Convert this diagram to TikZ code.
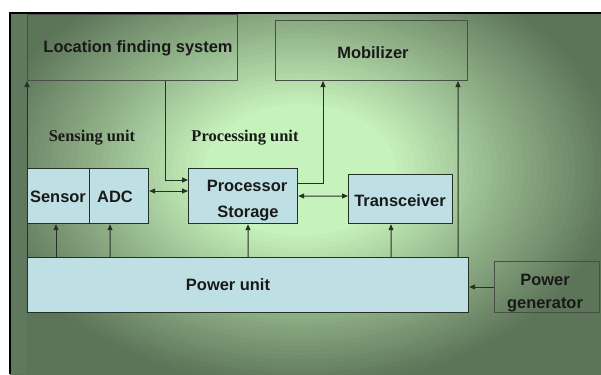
\documentclass[tikz,border=0pt]{standalone}
\usepackage{fontspec}
\setmainfont{Liberation Sans}
\newfontfamily\labelserif{Liberation Serif}
\usetikzlibrary{arrows.meta}
\definecolor{bgdark}{RGB}{92,116,88}
\definecolor{bgmid}{RGB}{140,172,132}
\definecolor{bglight}{RGB}{198,242,188}
\definecolor{stripc}{RGB}{96,120,94}
\definecolor{boxfill}{RGB}{190,224,228}
\definecolor{edgec}{RGB}{38,48,38}
\tikzset{
  greenbox/.style={draw=edgec!85, line width=1bp, inner sep=0pt, anchor=north west},
  bluebox/.style={draw=edgec, line width=1.2bp, fill=boxfill, inner sep=0pt, anchor=north west},
  boxtext/.style={font=\fontsize{16.5}{19}\selectfont\bfseries, text=black!90, inner sep=0pt},
  unittext/.style={font=\labelserif\fontsize{16.5}{19}\selectfont\bfseries, text=black!90, inner sep=0pt},
  arr/.style={draw=edgec, line width=1bp, -{Triangle[length=6bp,width=5bp]}},
  darr/.style={draw=edgec, line width=1bp, {Triangle[length=6bp,width=5bp]}-{Triangle[length=6bp,width=5bp]}}
}
\begin{document}
\begin{tikzpicture}[x=1bp,y=-1bp]
\useasboundingbox (0,0) rectangle (601,374);
\fill[white] (0,0) rectangle (601,374);
\begin{scope}
  \clip (10,13) rectangle (601,374);
  \fill[bgdark] (10,13) rectangle (601,374);
  \foreach \k in {70,69,...,1}{
    \pgfmathsetmacro\rr{\k/50}
    \pgfmathsetmacro\pa{max(0,min(100,(\rr-0.3)/0.38*100))}
    \pgfmathsetmacro\pb{max(0,min(100,(\rr-0.68)/0.32*100))}
    \ifdim\rr pt<0.68pt
      \colorlet{ringc}{bgmid!\pa!bglight}
    \else
      \colorlet{ringc}{bgdark!\pb!bgmid}
    \fi
    \fill[ringc] (300,170) ellipse ({320*\rr} and {220*\rr});
  }
  \fill[stripc] (10,13) rectangle (27,374);
\end{scope}
\draw[black, line width=1.2bp] (10,374) -- (10,13) -- (601,13);

% boxes
\node[greenbox, minimum width=210bp, minimum height=66bp] (loc) at (27,14) {};
\node[greenbox, minimum width=192bp, minimum height=60bp] (mob) at (275,20) {};
\node[bluebox, minimum width=441bp, minimum height=55bp] (power) at (27,257) {};
\node[greenbox, minimum width=105bp, minimum height=51bp] (gen) at (494,261) {};
\node[bluebox, minimum width=62bp, minimum height=55bp] (sensor) at (27,168) {};
\node[bluebox, minimum width=59bp, minimum height=55bp] (adc) at (89,168) {};
\node[bluebox, minimum width=109bp, minimum height=55bp] (proc) at (188,168) {};
\node[bluebox, minimum width=104bp, minimum height=49bp] (trans) at (348,174) {};

% texts
\node[boxtext] (tloc) at (138,48) {Location finding system};
\node[boxtext] (tmob) at (373,53) {Mobilizer};
\node[unittext] (tsens) at (92,138) {Sensing unit};
\node[unittext] (tprocu) at (245,138) {Processing unit};
\node[boxtext] (tsensor) at (58,197) {Sensor};
\node[boxtext] (tadc) at (115,197) {ADC};
\node[boxtext] (tproc) at (247,186) {Processor};
\node[boxtext] (tstor) at (248,213) {Storage};
\node[boxtext] (ttrans) at (400,201) {Transceiver};
\node[boxtext] (tpower) at (228,285) {Power unit};
\node[boxtext] (tgen1) at (545,280) {Power};
\node[boxtext] (tgen2) at (545,305) {generator};

% connectors
\draw[arr] (power.north west) -- (loc.south west);
\draw[arr] ([xshift=138bp]loc.south west) |- ([yshift=-12bp]proc.north west);
\draw[darr] ([yshift=-23bp]adc.north east) -- ([yshift=-23bp]proc.north west);
\draw[darr] ([yshift=-28bp]proc.north east) -- ([yshift=-22bp]trans.north west);
\draw[arr] ([yshift=-15bp]proc.north east) -| ([xshift=48bp]mob.south west);
\draw[arr] ([xshift=-11bp]power.north east) -- ([xshift=-10bp]mob.south east);
\draw[arr] ([xshift=29bp]power.north west) -- ([xshift=29bp]sensor.south west);
\draw[arr] ([xshift=83bp]power.north west) -- ([xshift=21bp]adc.south west);
\draw[arr] ([xshift=221bp]power.north west) -- ([xshift=60bp]proc.south west);
\draw[arr] ([xshift=364bp]power.north west) -- ([xshift=43bp]trans.south west);
\draw[arr] (gen.west) -- (gen.west -| power.east);
\end{tikzpicture}
\end{document}
